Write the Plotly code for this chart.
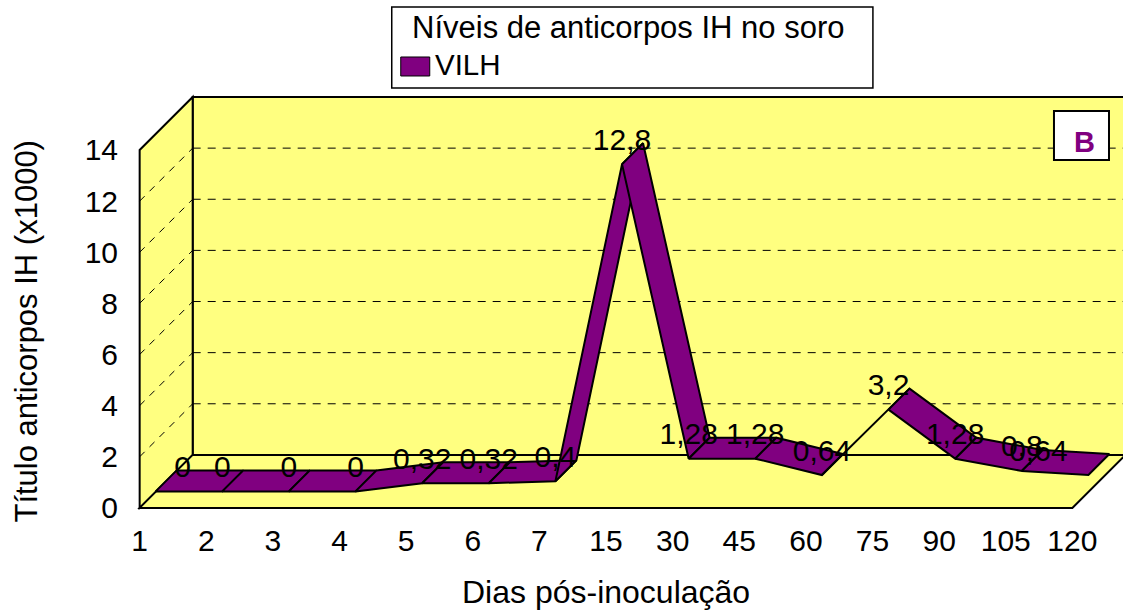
import plotly.graph_objects as go

# ---- data ----
days = ["1", "2", "3", "4", "5", "6", "7", "15", "30", "45", "60", "75", "90", "105", "120"]
vilh = [0, 0, 0, 0, 0.32, 0.32, 0.4, 12.8, 1.28, 1.28, 0.64, 3.2, 1.28, 0.8, 0.64]
value_labels = ["0", "0", "0", "0", "0,32", "0,32", "0,4", "12,8", "1,28", "1,28", "0,64", "3,2", "1,28", "0,8", "0,64"]
y_ticks = [0, 2, 4, 6, 8, 10, 12, 14]
wall_grid = [2, 4, 6, 8, 10, 12]

# ---- geometry / style ----
W, H = 1123, 610
U_X, U_Y = 66.6, 25.57            # pixels per category / per value unit
X0_PX, Y0_PX = 140, 508           # pixel position of the axis origin
PAD_L, PAD_B = 6.66, 5.1
DEPTH_X, DEPTH_Y = 53 / U_X, 53 / U_Y          # oblique floor depth
RIB_OFF_X, RIB_OFF_Y = 16 / U_X, 16.5 / U_Y    # ribbon start within depth
RIB_W_X, RIB_W_Y = 21 / U_X, 21 / U_Y          # ribbon thickness
LABEL_DY = 22 / U_Y
LABEL_DX = {0: 27 / U_X, 14: -50 / U_X}        # end labels are pulled inwards
YELLOW, PURPLE = "#FFFF80", "#800080"
FONT = "Liberation Sans, Arial, sans-serif"
FS = 30

x_range = [-PAD_L / U_X, (W - X0_PX) / U_X]
y_range = [-PAD_B / U_Y, Y0_PX / U_Y]
N = len(days)
x_end = N - 1

fig = go.Figure()

# ribbon: one parallelogram per segment
for i in range(N - 1):
    fx0, fx1 = i + RIB_OFF_X, i + 1 + RIB_OFF_X
    fy0, fy1 = vilh[i] + RIB_OFF_Y, vilh[i + 1] + RIB_OFF_Y
    fig.add_trace(go.Scatter(
        x=[fx0, fx1, fx1 + RIB_W_X, fx0 + RIB_W_X, fx0],
        y=[fy0, fy1, fy1 + RIB_W_Y, fy0 + RIB_W_Y, fy0],
        mode="lines", fill="toself", fillcolor=PURPLE,
        line=dict(color="black", width=2), name="VILH",
        showlegend=False, hoverinfo="skip"))

# value labels
fig.add_trace(go.Scatter(
    x=[i + RIB_OFF_X + LABEL_DX.get(i, 0) for i in range(N)],
    y=[v + RIB_OFF_Y + LABEL_DY for v in vilh],
    mode="text", text=value_labels, textposition="middle center",
    textfont=dict(family=FONT, size=FS, color="black"),
    showlegend=False, hoverinfo="skip"))

shapes = []
def poly(pts, fill=None, width=2):
    path = "M " + " L ".join(f"{a},{b}" for a, b in pts) + (" Z" if fill else "")
    shapes.append(dict(type="path", path=path, xref="x", yref="y", layer="below",
                       fillcolor=fill or "rgba(0,0,0,0)", line=dict(color="black", width=width)))

ytop = max(y_ticks)
# back wall
poly([(DEPTH_X, DEPTH_Y), (x_end + DEPTH_X, DEPTH_Y), (x_end + DEPTH_X, ytop + DEPTH_Y), (DEPTH_X, ytop + DEPTH_Y)], YELLOW)
# side wall
poly([(0, 0), (DEPTH_X, DEPTH_Y), (DEPTH_X, ytop + DEPTH_Y), (0, ytop)], YELLOW)
# floor
poly([(0, 0), (x_end, 0), (x_end + DEPTH_X, DEPTH_Y), (DEPTH_X, DEPTH_Y)], YELLOW)
# grid on walls
for g in wall_grid:
    shapes.append(dict(type="line", xref="x", yref="y", layer="below",
                       x0=DEPTH_X, x1=x_end + DEPTH_X, y0=g + DEPTH_Y, y1=g + DEPTH_Y,
                       line=dict(color="black", width=1, dash="8px,7px")))
    shapes.append(dict(type="line", xref="x", yref="y", layer="below",
                       x0=0, x1=DEPTH_X, y0=g, y1=g + DEPTH_Y,
                       line=dict(color="black", width=1, dash="7px,7px")))

# pixel helpers for the chart furniture ("paper" spans the plot area only)
M_L = X0_PX - PAD_L
M_B = H - Y0_PX - PAD_B
def px_x(p): return (p - M_L) / (W - M_L)
def px_y(p): return (H - M_B - p) / (H - M_B)

# legend box
shapes.append(dict(type="rect", xref="paper", yref="paper", x0=px_x(392), x1=px_x(873),
                   y0=px_y(88), y1=px_y(7), fillcolor="white", line=dict(color="black", width=1.5)))
shapes.append(dict(type="rect", xref="paper", yref="paper", x0=px_x(401), x1=px_x(430),
                   y0=px_y(76), y1=px_y(57), fillcolor=PURPLE, line=dict(color="black", width=1)))
# "B" box
shapes.append(dict(type="rect", xref="paper", yref="paper", x0=px_x(1054), x1=px_x(1109),
                   y0=px_y(160), y1=px_y(111), fillcolor="white", line=dict(color="black", width=2)))

def note(text, x, y, size=FS, color="black", bold=False, angle=0, xanchor="center"):
    return dict(text=f"<b>{text}</b>" if bold else text, xref="paper", yref="paper",
                x=px_x(x), y=px_y(y), xanchor=xanchor, yanchor="middle", showarrow=False,
                textangle=angle, font=dict(family=FONT, size=size, color=color))

annotations = [
    note("Níveis de anticorpos IH no soro", 410, 28, size=31, xanchor="left"),
    note("VILH", 433, 65, size=29.5, xanchor="left"),
    note("B", 1085, 142, size=29, color=PURPLE, bold=True),
    note("Dias pós-inoculação", 606, 592, size=32),
    note("Título anticorpos IH (x1000)", 27, 331, size=31, angle=-90),
]

fig.update_layout(
    width=W, height=H, autosize=False,
    margin=dict(l=M_L, r=0, t=0, b=M_B, pad=0),
    paper_bgcolor="white", plot_bgcolor="white",
    shapes=shapes, annotations=annotations, showlegend=False,
    xaxis=dict(range=x_range, tickmode="array", tickvals=list(range(N)), ticktext=days,
               showgrid=False, zeroline=False, showline=False, ticks="",
               ticklabelstandoff=7, tickangle=0,
               tickfont=dict(family=FONT, size=FS, color="black")),
    yaxis=dict(range=y_range, tickmode="array", tickvals=y_ticks, ticktext=[str(t) for t in y_ticks],
               showgrid=False, zeroline=False, showline=False, ticks="",
               ticklabelstandoff=14,
               tickfont=dict(family=FONT, size=FS, color="black")),
)

fig.write_html("out.html", config={"displayModeBar": False},
               post_script="document.body.style.margin='0';document.body.style.overflow='hidden';")
